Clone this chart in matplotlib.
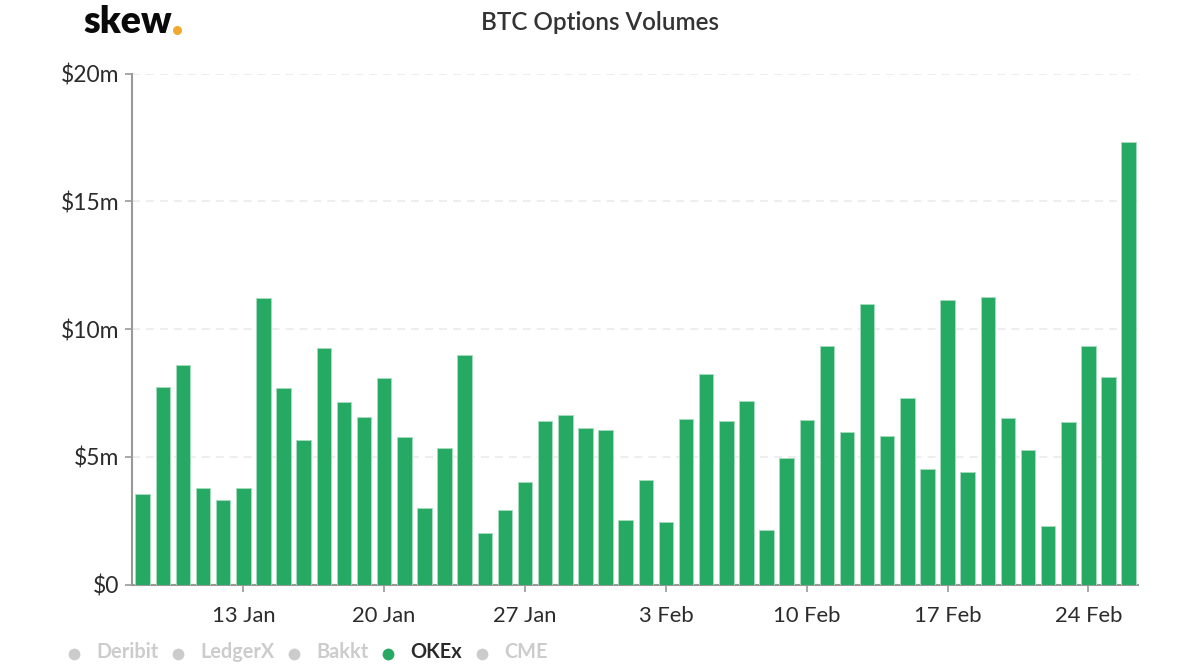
import matplotlib
matplotlib.use('Agg')
import matplotlib.pyplot as plt
import pandas as pd
from matplotlib.lines import Line2D

plt.rcParams['font.family'] = ['Lato', 'DejaVu Sans']

W, H = 1200, 670

# okex daily volume, $m
volumes = [3.54, 7.72, 8.58, 3.8, 3.32, 3.77, 11.24, 7.68, 5.67, 9.28,
           7.15, 6.58, 8.08, 5.8, 3.02, 5.36, 8.98, 2.03, 2.94, 4.02,
           6.42, 6.65, 6.15, 6.07, 2.52, 4.08, 2.47, 6.5, 8.25, 6.42,
           7.2, 2.15, 4.97, 6.44, 9.33, 5.96, 10.98, 5.83, 7.3, 4.53,
           11.15, 4.42, 11.25, 6.53, 5.28, 2.3, 6.38, 9.36, 8.13, 17.32]
dates = pd.date_range('2020-01-08', periods=len(volumes), freq='D')
tick_dates = pd.to_datetime(['2020-01-13', '2020-01-20', '2020-01-27', '2020-02-03',
                             '2020-02-10', '2020-02-17', '2020-02-24'])
tick_labels = ['13 Jan', '20 Jan', '27 Jan', '3 Feb', '10 Feb', '17 Feb', '24 Feb']
y_ticks = [0, 5, 10, 15, 20]
y_labels = ['$0', '$5m', '$10m', '$15m', '$20m']
legend_names = ['Deribit', 'LedgerX', 'Bakkt', 'OKEx', 'CME']
legend_active = [False, False, False, True, False]

GREEN = '#26a963'
AXIS = '#999999'
TEXT = '#2b2b2b'
OFF = '#cccccc'


def fx(px):
    return px / W


def fy(px):
    return 1 - px / H


fig = plt.figure(figsize=(W / 100, H / 100), dpi=100, facecolor='white')
ax = fig.add_axes([fx(131.5), fy(584.7), (1138 - 131.5) / W, (584.7 - 73.7) / H])

ax.bar(dates, volumes, width=0.72, color=GREEN, edgecolor='#a5dcbd', linewidth=0.7, zorder=3)

ax.set_xlim(dates[0] - pd.Timedelta(days=0.557), dates[-1] + pd.Timedelta(days=0.462))
ax.set_ylim(0, 20)

for s in ['top', 'right']:
    ax.spines[s].set_visible(False)
for s in ['left', 'bottom']:
    ax.spines[s].set_color(AXIS)
    ax.spines[s].set_linewidth(1.5)

ax.set_yticks(y_ticks)
ax.set_yticklabels(y_labels)
ax.set_xticks(tick_dates)
ax.set_xticklabels(tick_labels)
ax.tick_params(axis='y', length=5, width=1.2, color=AXIS, labelsize=16.5, labelcolor=TEXT, pad=4)
ax.tick_params(axis='x', length=5, width=1.2, color=AXIS, labelsize=15.8, labelcolor=TEXT, pad=10)
ax.grid(axis='y', color='#eeeeee', linewidth=1.5, linestyle=(0, (3.8, 2.9)), zorder=0)
ax.set_axisbelow(True)

# title and logo
fig.text(fx(600), fy(23), 'BTC Options Volumes', ha='center', va='center',
         fontsize=17.5, color='#333333', fontweight='semibold')
fig.text(fx(83), fy(33), 'skew', ha='left', va='baseline',
         fontsize=27, fontweight='heavy', color='#0a0a0a')
fig.add_artist(Line2D([fx(177)], [fy(30)], marker='o', markersize=6.5, color='#f0a92e',
                      markeredgewidth=0, linestyle='none'))

# legend
marker_x = [74, 178, 294, 388, 482]
label_x = [96.5, 200.5, 316.5, 410.5, 504]
for name, on, mx, lx in zip(legend_names, legend_active, marker_x, label_x):
    fig.add_artist(Line2D([fx(mx)], [fy(654)], marker='o', markersize=8.5,
                          color=GREEN if on else OFF, markeredgewidth=0, linestyle='none'))
    fig.text(fx(lx), fy(652), name, ha='left', va='center', fontsize=14.3, fontweight='bold',
             color=TEXT if on else OFF)

fig.savefig('out.png', dpi=100)
